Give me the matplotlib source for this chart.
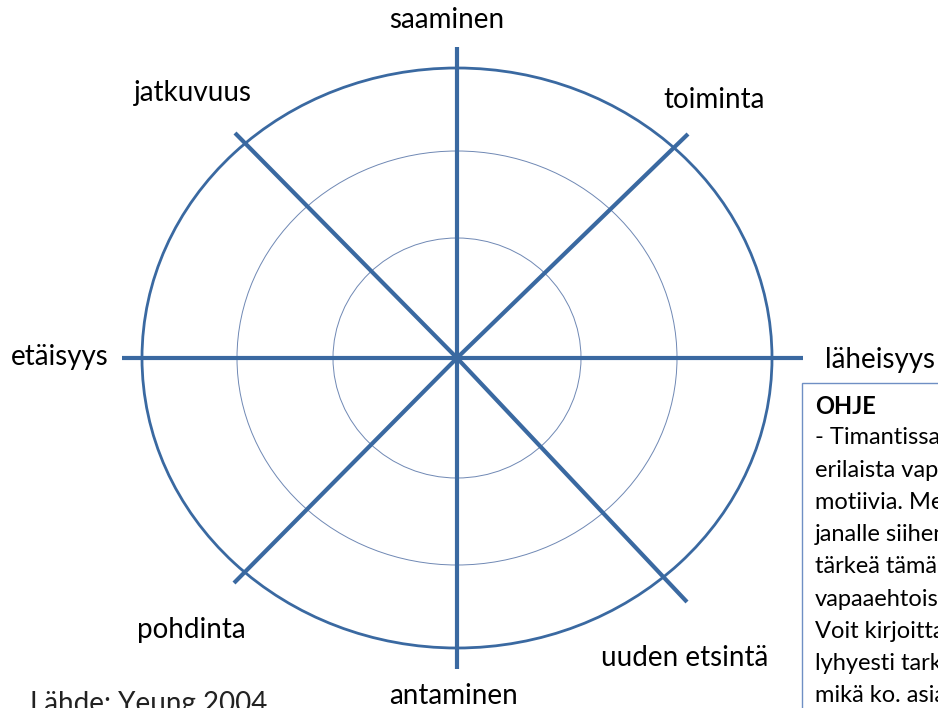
import numpy as np
import matplotlib.pyplot as plt
from matplotlib.patches import Ellipse, Rectangle

# motiivit kulman mukaan (0 = oikealla, vastapäivään)
labels = ['läheisyys', 'toiminta', 'saaminen', 'jatkuvuus',
          'etäisyys', 'pohdinta', 'antaminen', 'uuden etsintä']
angles = [0, 45, 90, 135, 180, 225, 270, 315]

# renkaat (vaaka- ja pystysäde pikseleinä)
ring_rx = [315, 220, 124]
ring_ry = [290, 207, 120]

ohje_title = 'OHJE'
ohje_lines = ['- Timantissa on kahdeksan',
              'erilaista vapaaehtoistyön',
              'motiivia. Merkitse',
              'janalle siihen kohtaan, kuinka',
              'tärkeä tämä motiivi on',
              'vapaaehtoistyössäsi.',
              'Voit kirjoittaa myös',
              'lyhyesti tarkennuksia,',
              'mikä ko. asia sinulle on.']
source = 'Lähde: Yeung 2004'

plt.rcParams['font.family'] = ['Lato', 'DejaVu Sans']
col = '#3a69a1'

fig = plt.figure(figsize=(9.38, 7.08), dpi=100)
ax = fig.add_axes([0, 0, 1, 1])
ax.set_xlim(0, 938)
ax.set_ylim(708, 0)
ax.axis('off')

cx, cy = 457, 358

# spokes
spoke_len = {0: (346, 0), 45: (231, 224), 90: (0, 311), 135: (222, 225),
             180: (335, 0), 225: (223, 225), 270: (0, 311), 315: (230, 244)}
for a in angles:
    lx, ly = spoke_len[a]
    dx = np.cos(np.radians(a))
    dy = np.sin(np.radians(a))
    ex = cx + np.sign(round(dx, 6)) * lx
    ey = cy - np.sign(round(dy, 6)) * ly
    ax.plot([cx, ex], [cy, ey], color=col, lw=3.0, solid_capstyle='butt', zorder=3)

# rings
for i, (rx, ry) in enumerate(zip(ring_rx, ring_ry)):
    lw = 2.0 if i == 0 else 0.7
    c = col if i == 0 else '#6f88b4'
    ax.add_patch(Ellipse((cx, cy), 2 * rx, 2 * ry, fill=False, ec=c, lw=lw, zorder=2))

# label positions
label_pos = {'läheisyys': (880, 360), 'toiminta': (714, 100), 'saaminen': (447, 20),
             'jatkuvuus': (193, 93), 'etäisyys': (60, 357), 'pohdinta': (191, 630),
             'antaminen': (454, 696), 'uuden etsintä': (685, 658)}
for lab in labels:
    x, y = label_pos[lab]
    ax.text(x, y, lab, fontsize=20, ha='center', va='center', color='black')

ax.text(30, 691, source, fontsize=20, ha='left', va='top', color='#222222')

# ohjelaatikko
ax.add_patch(Rectangle((802, 383), 200, 400, fill=True, fc='white', ec='#6f8fc4', lw=1.0, zorder=4))
ax.text(815, 407, ohje_title, fontsize=17, fontweight='bold', ha='left', va='center', zorder=5)
for i, line in enumerate(ohje_lines):
    ax.text(815, 438 + i * 32.2, line, fontsize=17, ha='left', va='center', zorder=5)

plt.savefig('out.png', dpi=100)
